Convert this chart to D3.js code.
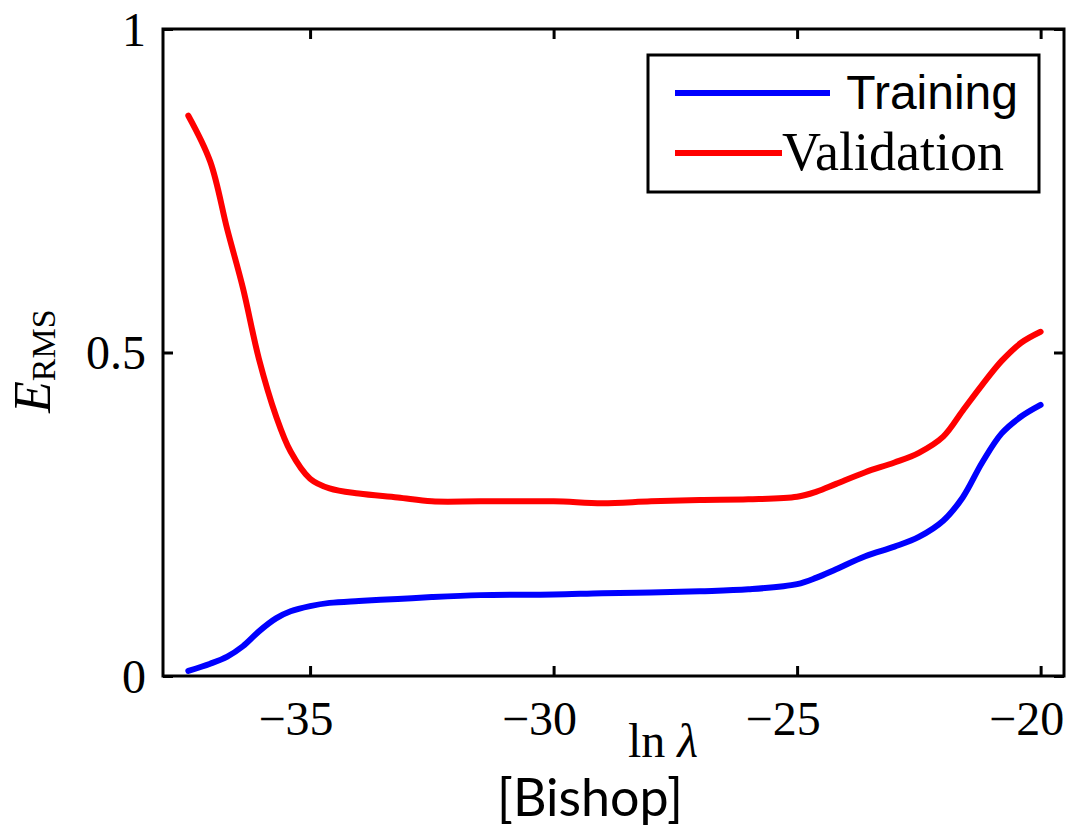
<!DOCTYPE html>
<html>
<head>
<meta charset="utf-8">
<script src="https://cdn.jsdelivr.net/npm/d3@7"></script>
<style>
  body { margin: 0; background: #fff; }
  svg { display: block; }
</style>
</head>
<body>
<div id="chart"></div>
<script>
// DATA
const lnLambda = [-37.5, -37.05, -36.7, -36.38, -36.05, -35.7, -35.4, -35.0, -34.6, -34.0, -33.2, -32.5, -31.5, -30.0, -29.0, -28.0, -27.0, -26.0, -25.0, -24.6, -24.2, -23.6, -23.0, -22.5, -22.0, -21.6, -21.2, -20.8, -20.4, -20.0];
const training = [0.008, 0.019, 0.03, 0.046, 0.069, 0.089, 0.1, 0.108, 0.113, 0.116, 0.119, 0.122, 0.125, 0.126, 0.128, 0.129, 0.131, 0.134, 0.142, 0.152, 0.165, 0.185, 0.2, 0.215, 0.24, 0.276, 0.33, 0.375, 0.401, 0.419];
const validation = [0.866, 0.795, 0.69, 0.6, 0.49, 0.402, 0.347, 0.305, 0.29, 0.282, 0.276, 0.27, 0.27, 0.27, 0.267, 0.27, 0.272, 0.273, 0.277, 0.285, 0.297, 0.315, 0.33, 0.345, 0.37, 0.41, 0.45, 0.487, 0.515, 0.532];
const xTicks = [-35, -30, -25, -20];
const yTicks = [0, 0.5, 1];
const yTickLabels = ["0", "0.5", "1"];
const seriesNames = ["Training", "Validation"];

const WIDTH = 1068, HEIGHT = 829;
const MARGIN = { LEFT: 163, RIGHT: 4, TOP: 29, BOTTOM: 153 };
const W = WIDTH - MARGIN.LEFT - MARGIN.RIGHT;
const H = HEIGHT - MARGIN.TOP - MARGIN.BOTTOM;
const SERIF = "'Liberation Serif', 'Times New Roman', serif";

const svg = d3.select("#chart")
  .append("svg")
  .attr("width", WIDTH)
  .attr("height", HEIGHT);

const g = svg.append("g")
  .attr("transform", `translate(${MARGIN.LEFT}, ${MARGIN.TOP})`);

const x = d3.scaleLinear().domain([-38.02, -19.52]).range([0, W]);
const y = d3.scaleLinear().domain([0, 1]).range([H, 0]);

// AXES (ticks inside, mirrored)
const tickLen = 10;
g.append("g")
  .attr("transform", `translate(0, ${H})`)
  .call(d3.axisBottom(x).tickValues(xTicks).tickSize(-tickLen).tickFormat(""))
  .call((a) => a.select(".domain").remove());
g.append("g")
  .call(d3.axisTop(x).tickValues(xTicks).tickSize(-tickLen).tickFormat(""))
  .call((a) => a.select(".domain").remove());
g.append("g")
  .call(d3.axisLeft(y).tickValues(yTicks).tickSize(-tickLen).tickFormat(""))
  .call((a) => a.select(".domain").remove());
g.append("g")
  .attr("transform", `translate(${W}, 0)`)
  .call(d3.axisRight(y).tickValues(yTicks).tickSize(-tickLen).tickFormat(""))
  .call((a) => a.select(".domain").remove());
g.selectAll(".tick line").attr("stroke", "#000").attr("stroke-width", 3);

// tick labels
g.selectAll(".xlab")
  .data(xTicks)
  .enter()
  .append("text")
  .attr("x", (d) => x(d) - 14)
  .attr("y", H + 59)
  .attr("text-anchor", "middle")
  .style("font-family", SERIF)
  .style("font-size", "48px")
  .text((d) => "\u2212" + Math.abs(d));

g.selectAll(".ylab")
  .data(yTicks)
  .enter()
  .append("text")
  .attr("x", -17)
  .attr("y", (d) => y(d))
  .attr("dy", "0.35em")
  .attr("text-anchor", "end")
  .style("font-family", SERIF)
  .style("font-size", "48px")
  .text((d, i) => yTickLabels[i]);

// LINES
const line = (vals) => d3.line()
  .x((d, i) => x(lnLambda[i]))
  .y((d) => y(d))
  .curve(d3.curveCatmullRom.alpha(0.5))(vals);

g.append("path")
  .attr("d", line(validation))
  .attr("fill", "none")
  .attr("stroke", "#f00")
  .attr("stroke-width", 6)
  .attr("stroke-linecap", "round");

g.append("path")
  .attr("d", line(training))
  .attr("fill", "none")
  .attr("stroke", "#00f")
  .attr("stroke-width", 6)
  .attr("stroke-linecap", "round");

// BOX
g.append("rect")
  .attr("width", W)
  .attr("height", H)
  .attr("fill", "none")
  .attr("stroke", "#000")
  .attr("stroke-width", 3);

// LEGEND
const legend = svg.append("g");
legend.append("rect")
  .attr("x", 648).attr("y", 55)
  .attr("width", 391).attr("height", 137)
  .attr("fill", "#fff")
  .attr("stroke", "#000")
  .attr("stroke-width", 3);
legend.append("line")
  .attr("x1", 675).attr("x2", 830).attr("y1", 93).attr("y2", 93)
  .attr("stroke", "#00f").attr("stroke-width", 6);
legend.append("line")
  .attr("x1", 675).attr("x2", 782).attr("y1", 153).attr("y2", 153)
  .attr("stroke", "#f00").attr("stroke-width", 6);
legend.append("text")
  .attr("x", 1018).attr("y", 109)
  .attr("text-anchor", "end")
  .style("font-family", "'Liberation Sans', Arial, sans-serif")
  .style("font-size", "48px")
  .text(seriesNames[0]);
legend.append("text")
  .attr("x", 782).attr("y", 170)
  .style("font-family", SERIF)
  .style("font-size", "54px")
  .text(seriesNames[1]);

// LABELS
const xLabel = svg.append("text")
  .attr("x", 663).attr("y", 757)
  .attr("text-anchor", "middle")
  .style("font-family", SERIF)
  .style("font-size", "48px");
xLabel.append("tspan").text("ln ");
xLabel.append("tspan").style("font-style", "italic").text("\u03bb");

const yLabel = svg.append("text")
  .attr("transform", "translate(50, 413) rotate(-90)")
  .style("font-family", SERIF);
yLabel.append("tspan")
  .style("font-style", "italic")
  .style("font-size", "52px")
  .text("E");
yLabel.append("tspan")
  .attr("dy", 5)
  .style("font-size", "34px")
  .text("RMS");

svg.append("text")
  .attr("x", 590).attr("y", 816)
  .attr("text-anchor", "middle")
  .style("font-family", "Lato, 'Open Sans', sans-serif")
  .style("font-size", "52px")
  .text("[Bishop]");
</script>
</body>
</html>
